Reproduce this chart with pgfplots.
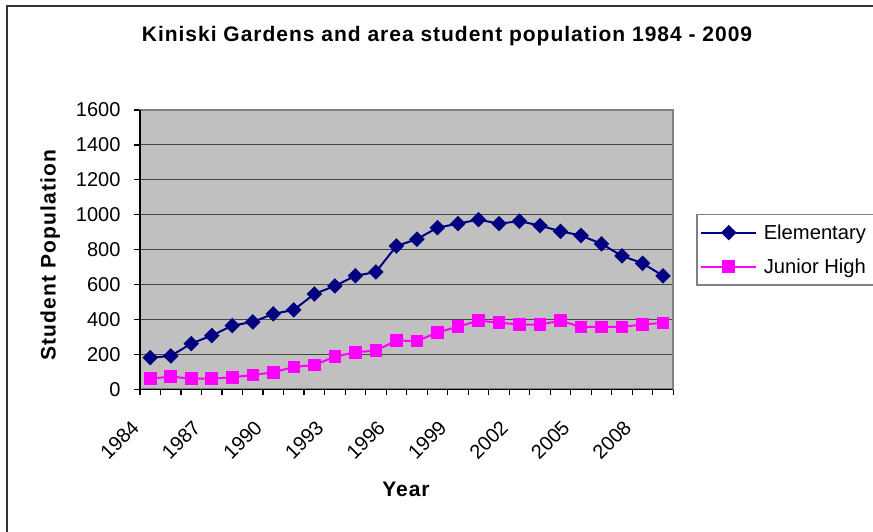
\documentclass[border=0pt]{standalone}
\usepackage{fontspec}
\setmainfont{Liberation Sans}
\newfontfamily\spacedA{Liberation Sans}[LetterSpace=4.7]
\newfontfamily\spacedB{Liberation Sans}[LetterSpace=5.4]
\usepackage{pgfplots}
\pgfplotsset{compat=1.18}
\definecolor{navyc}{RGB}{0,0,128}
\definecolor{magc}{RGB}{255,0,255}
\definecolor{plotbg}{RGB}{192,192,192}
\definecolor{bordergray}{RGB}{128,128,128}
\definecolor{gridc}{RGB}{70,70,70}
\begin{document}
\begin{tikzpicture}[x=1pt,y=1pt]
\useasboundingbox (0,0) rectangle (873,531);
\clip (0,0) rectangle (873,531);
\fill[white] (0,0) rectangle (873,531);
\draw[black!80, line width=1.2pt] (7,-5) -- (7,525) -- (900,525);
\node[anchor=base, inner sep=0pt, font=\fontsize{21}{25}\selectfont\spacedA\bfseries] at (447,489) {Kiniski Gardens and area student population 1984 - 2009};
\node[anchor=base, inner sep=0pt, font=\fontsize{21}{25}\selectfont\spacedA\bfseries] at (406,34.3) {Year};
\node[anchor=base, inner sep=0pt, rotate=90, font=\fontsize{21}{25}\selectfont\spacedB\bfseries] at (55.5,276) {Student Population};
\begin{axis}[
  at={(140pt,141.7pt)}, anchor=south west, scale only axis,
  width=533.3pt, height=279.3pt,
  xmin=-0.5, xmax=25.5, ymin=0, ymax=1600,
  axis background/.style={fill=plotbg},
  axis line style={draw=bordergray, line width=2pt},
  ytick={0,200,...,1600},
  xtick={0,3,...,24},
  xticklabels={1984,1987,1990,1993,1996,1999,2002,2005,2008},
  minor xtick={-0.5,0.5,...,25.5},
  tick align=outside, tick pos=left,
  major tick length=6pt, minor tick length=6pt,
  major x tick style={draw=none},
  minor x tick style={black, line width=1.2pt},
  major y tick style={black, line width=1.2pt},
  ymajorgrids, major grid style={gridc, line width=1pt},
  tick label style={font=\fontsize{20}{24}\selectfont},
  /pgf/number format/assume math mode=true,
  /pgf/number format/1000 sep={},
  yticklabel style={xshift=-10pt},
  xticklabel style={xshift=-12.5pt, yshift=-26.5pt, rotate=45, anchor=east},
  legend style={at={(1,0.5)}, anchor=west, xshift=22.7pt, draw=bordergray,
    line width=1.5pt, fill=white, inner xsep=3.5pt, inner ysep=8pt,
    font=\fontsize{20.2}{24}\selectfont, column sep=3pt,
    nodes={inner xsep=3.5pt, inner ysep=2pt}, row sep=14pt},
  legend cell align=left,
  legend image code/.code={\draw[mark repeat=2,mark phase=2,#1] plot coordinates {(0pt,0pt) (27.5pt,0pt) (55pt,0pt)};},
  clip=false,
]
\addplot[navyc, line width=2pt, mark=square*, mark size=4.5pt, mark options={rotate=45, solid, fill=navyc}] coordinates {
(0,181) (1,191) (2,262) (3,308) (4,365) (5,386) (6,432) (7,455) (8,546) (9,592)
(10,650) (11,672) (12,821) (13,860) (14,926) (15,949) (16,972) (17,949) (18,963)
(19,938) (20,905) (21,881) (22,833) (23,764) (24,722) (25,650)};
\addlegendentry{Elementary\hspace*{10pt}}
\addplot[magc, line width=2pt, mark=square*, mark size=5.3pt, mark options={solid, fill=magc}] coordinates {
(0,61) (1,73) (2,61) (3,61) (4,69) (5,82) (6,97) (7,128) (8,139) (9,187)
(10,212) (11,222) (12,279) (13,277) (14,325) (15,359) (16,393) (17,382) (18,371)
(19,371) (20,393) (21,357) (22,357) (23,357) (24,372) (25,380)};
\addlegendentry{Junior High}
\draw[black, line width=1.5pt] (rel axis cs:0,1) -- (rel axis cs:0,0) -- (rel axis cs:1,0);
\end{axis}
\end{tikzpicture}
\end{document}
